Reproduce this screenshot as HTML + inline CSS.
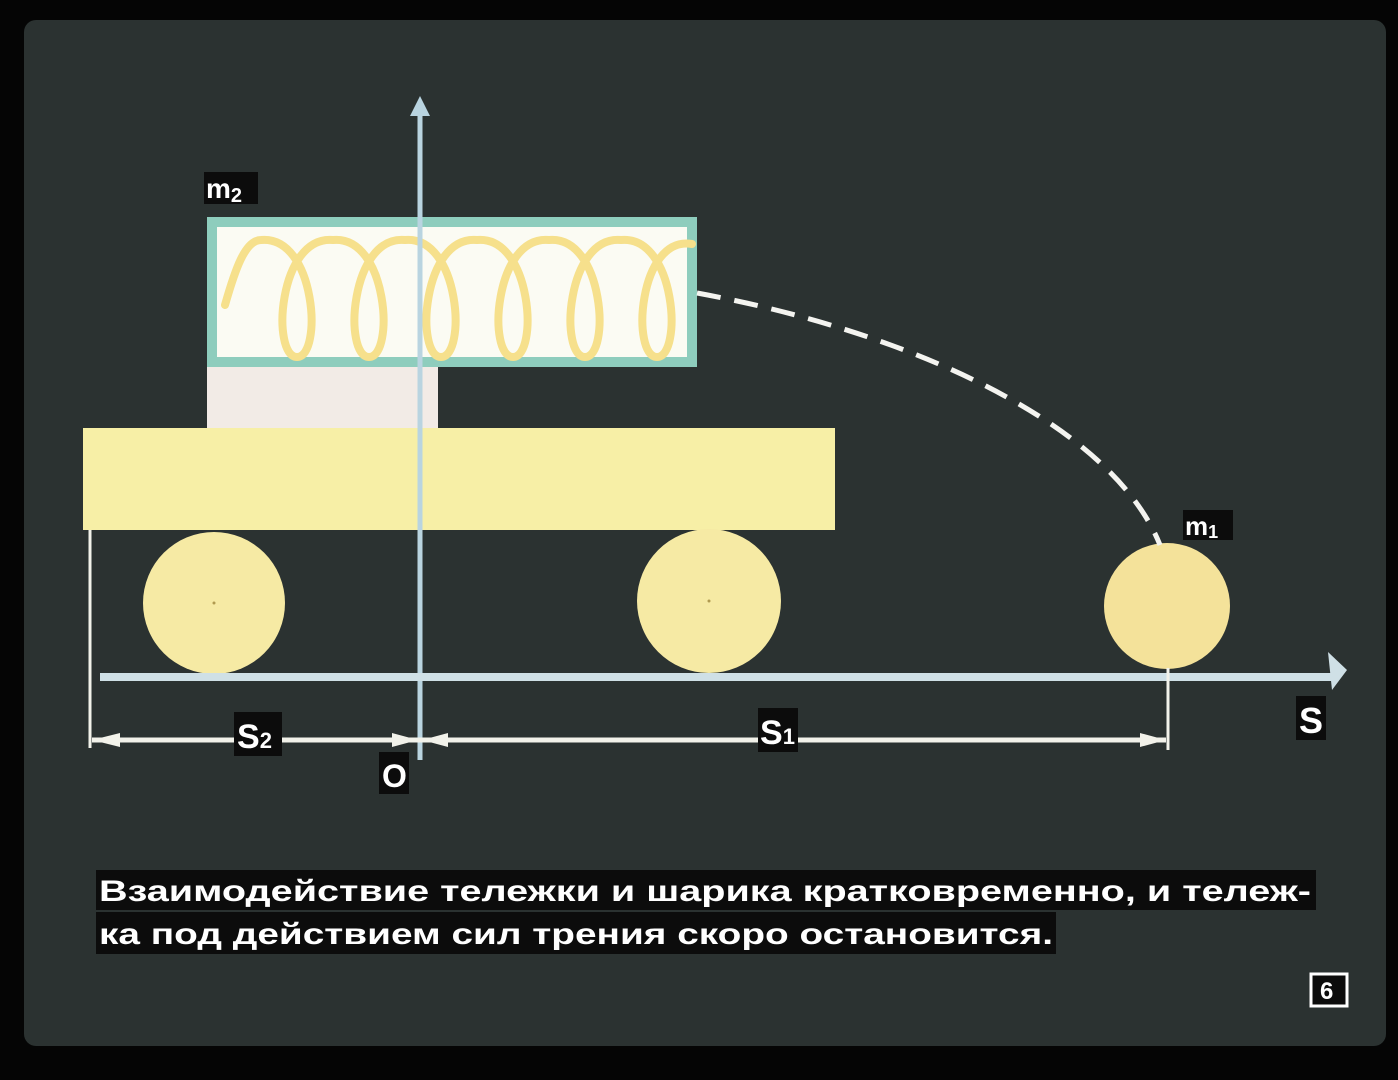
<!DOCTYPE html>
<html><head><meta charset="utf-8"><style>
html,body{margin:0;padding:0;background:#000;}
svg{display:block;}
</style></head><body>
<svg width="1398" height="1080" viewBox="0 0 1398 1080" xmlns="http://www.w3.org/2000/svg">
<rect x="0" y="0" width="1398" height="1080" fill="#050505"/>
<rect x="24" y="20" width="1362" height="1026" rx="12" fill="#2b3231"/>
<!-- box -->
<rect x="207" y="367" width="231" height="64" fill="#f2ebe6"/>
<rect x="212" y="222" width="480" height="140" fill="#fbfbf3" stroke="#8ecdbd" stroke-width="10"/>
<path d="M225,305 C235,270 245,240 261,240
 C316,235 323,357 297,357 C271,357 278,235 333,240
 C388,235 395,357 369,357 C343,357 350,235 405,240
 C460,235 467,357 441,357 C415,357 422,235 477,240
 C532,235 539,357 513,357 C487,357 494,235 549,240
 C604,235 611,357 585,357 C559,357 566,235 621,240
 C676,235 683,357 657,357 C631,357 638,235 692,244"
 fill="none" stroke="#f6e08c" stroke-width="8" stroke-linecap="round"/>
<!-- platform -->
<rect x="83" y="428" width="752" height="102" fill="#f7efa6"/>
<!-- wheels -->
<circle cx="214" cy="603" r="71" fill="#f6eaa4"/>
<circle cx="709" cy="601" r="72" fill="#f6eaa4"/>
<circle cx="214" cy="603" r="1.5" fill="#b09a50"/>
<circle cx="709" cy="601" r="1.5" fill="#b09a50"/>
<circle cx="1167" cy="606" r="63" fill="#f4e29a"/>
<!-- dashed trajectory -->
<path d="M697,293 C900,330 1110,420 1160,545" fill="none" stroke="#f4f4f0" stroke-width="5" stroke-dasharray="24,14"/>
<!-- vertical axis -->
<line x1="420" y1="108" x2="420" y2="760" stroke="#b9d4e0" stroke-width="5"/>
<polygon points="420,96 410,116 430,116" fill="#b9d4e0"/>
<!-- horizontal axis -->
<line x1="100" y1="677" x2="1332" y2="677" stroke="#cfe0e6" stroke-width="8"/>
<polygon points="1347,670 1328,652 1332,690" fill="#cfe0e6"/>
<!-- dimension -->
<line x1="90" y1="530" x2="90" y2="748" stroke="#f2f2ea" stroke-width="3"/>
<line x1="1168" y1="668" x2="1168" y2="750" stroke="#f2f2ea" stroke-width="3"/>
<line x1="92" y1="740" x2="1166" y2="740" stroke="#f2f2ea" stroke-width="5"/>
<polygon points="92,740 120,733 120,747" fill="#f2f2ea"/>
<polygon points="418,740 392,733 392,747" fill="#f2f2ea"/>
<polygon points="422,740 448,733 448,747" fill="#f2f2ea"/>
<polygon points="1166,740 1140,733 1140,747" fill="#f2f2ea"/>
<!-- labels -->
<g font-family="Liberation Sans, sans-serif" font-weight="bold" fill="#ffffff">
<rect x="204" y="172" width="54" height="32" fill="#0c0c0c"/>
<text x="206" y="198" font-size="28">m<tspan font-size="20" dy="4">2</tspan></text>
<rect x="1183" y="510" width="50" height="30" fill="#0c0c0c"/>
<text x="1185" y="535" font-size="26">m<tspan font-size="18" dy="3">1</tspan></text>
<rect x="234" y="712" width="48" height="44" fill="#0c0c0c"/>
<text x="237" y="748" font-size="34">S<tspan font-size="22">2</tspan></text>
<rect x="758" y="708" width="40" height="44" fill="#0c0c0c"/>
<text x="760" y="744" font-size="34">S<tspan font-size="22">1</tspan></text>
<rect x="1296" y="696" width="30" height="44" fill="#0c0c0c"/>
<text x="1299" y="733" font-size="36">S</text>
<rect x="379" y="752" width="30" height="42" fill="#0c0c0c"/>
<text x="382" y="787" font-size="32">O</text>
<rect x="96" y="870" width="1220" height="40" fill="#0c0c0c"/>
<text x="99" y="901" font-size="30" textLength="1212" lengthAdjust="spacingAndGlyphs">Взаимодействие тележки и шарика кратковременно, и тележ-</text>
<rect x="96" y="912" width="960" height="42" fill="#0c0c0c"/>
<text x="99" y="944" font-size="30" textLength="954" lengthAdjust="spacingAndGlyphs">ка под действием сил трения скоро остановится.</text>
<rect x="1311" y="974" width="36" height="32" fill="#0c0c0c" stroke="#ffffff" stroke-width="3"/>
<text x="1320" y="999" font-size="24">6</text>
</g>
</svg>
</body></html>
